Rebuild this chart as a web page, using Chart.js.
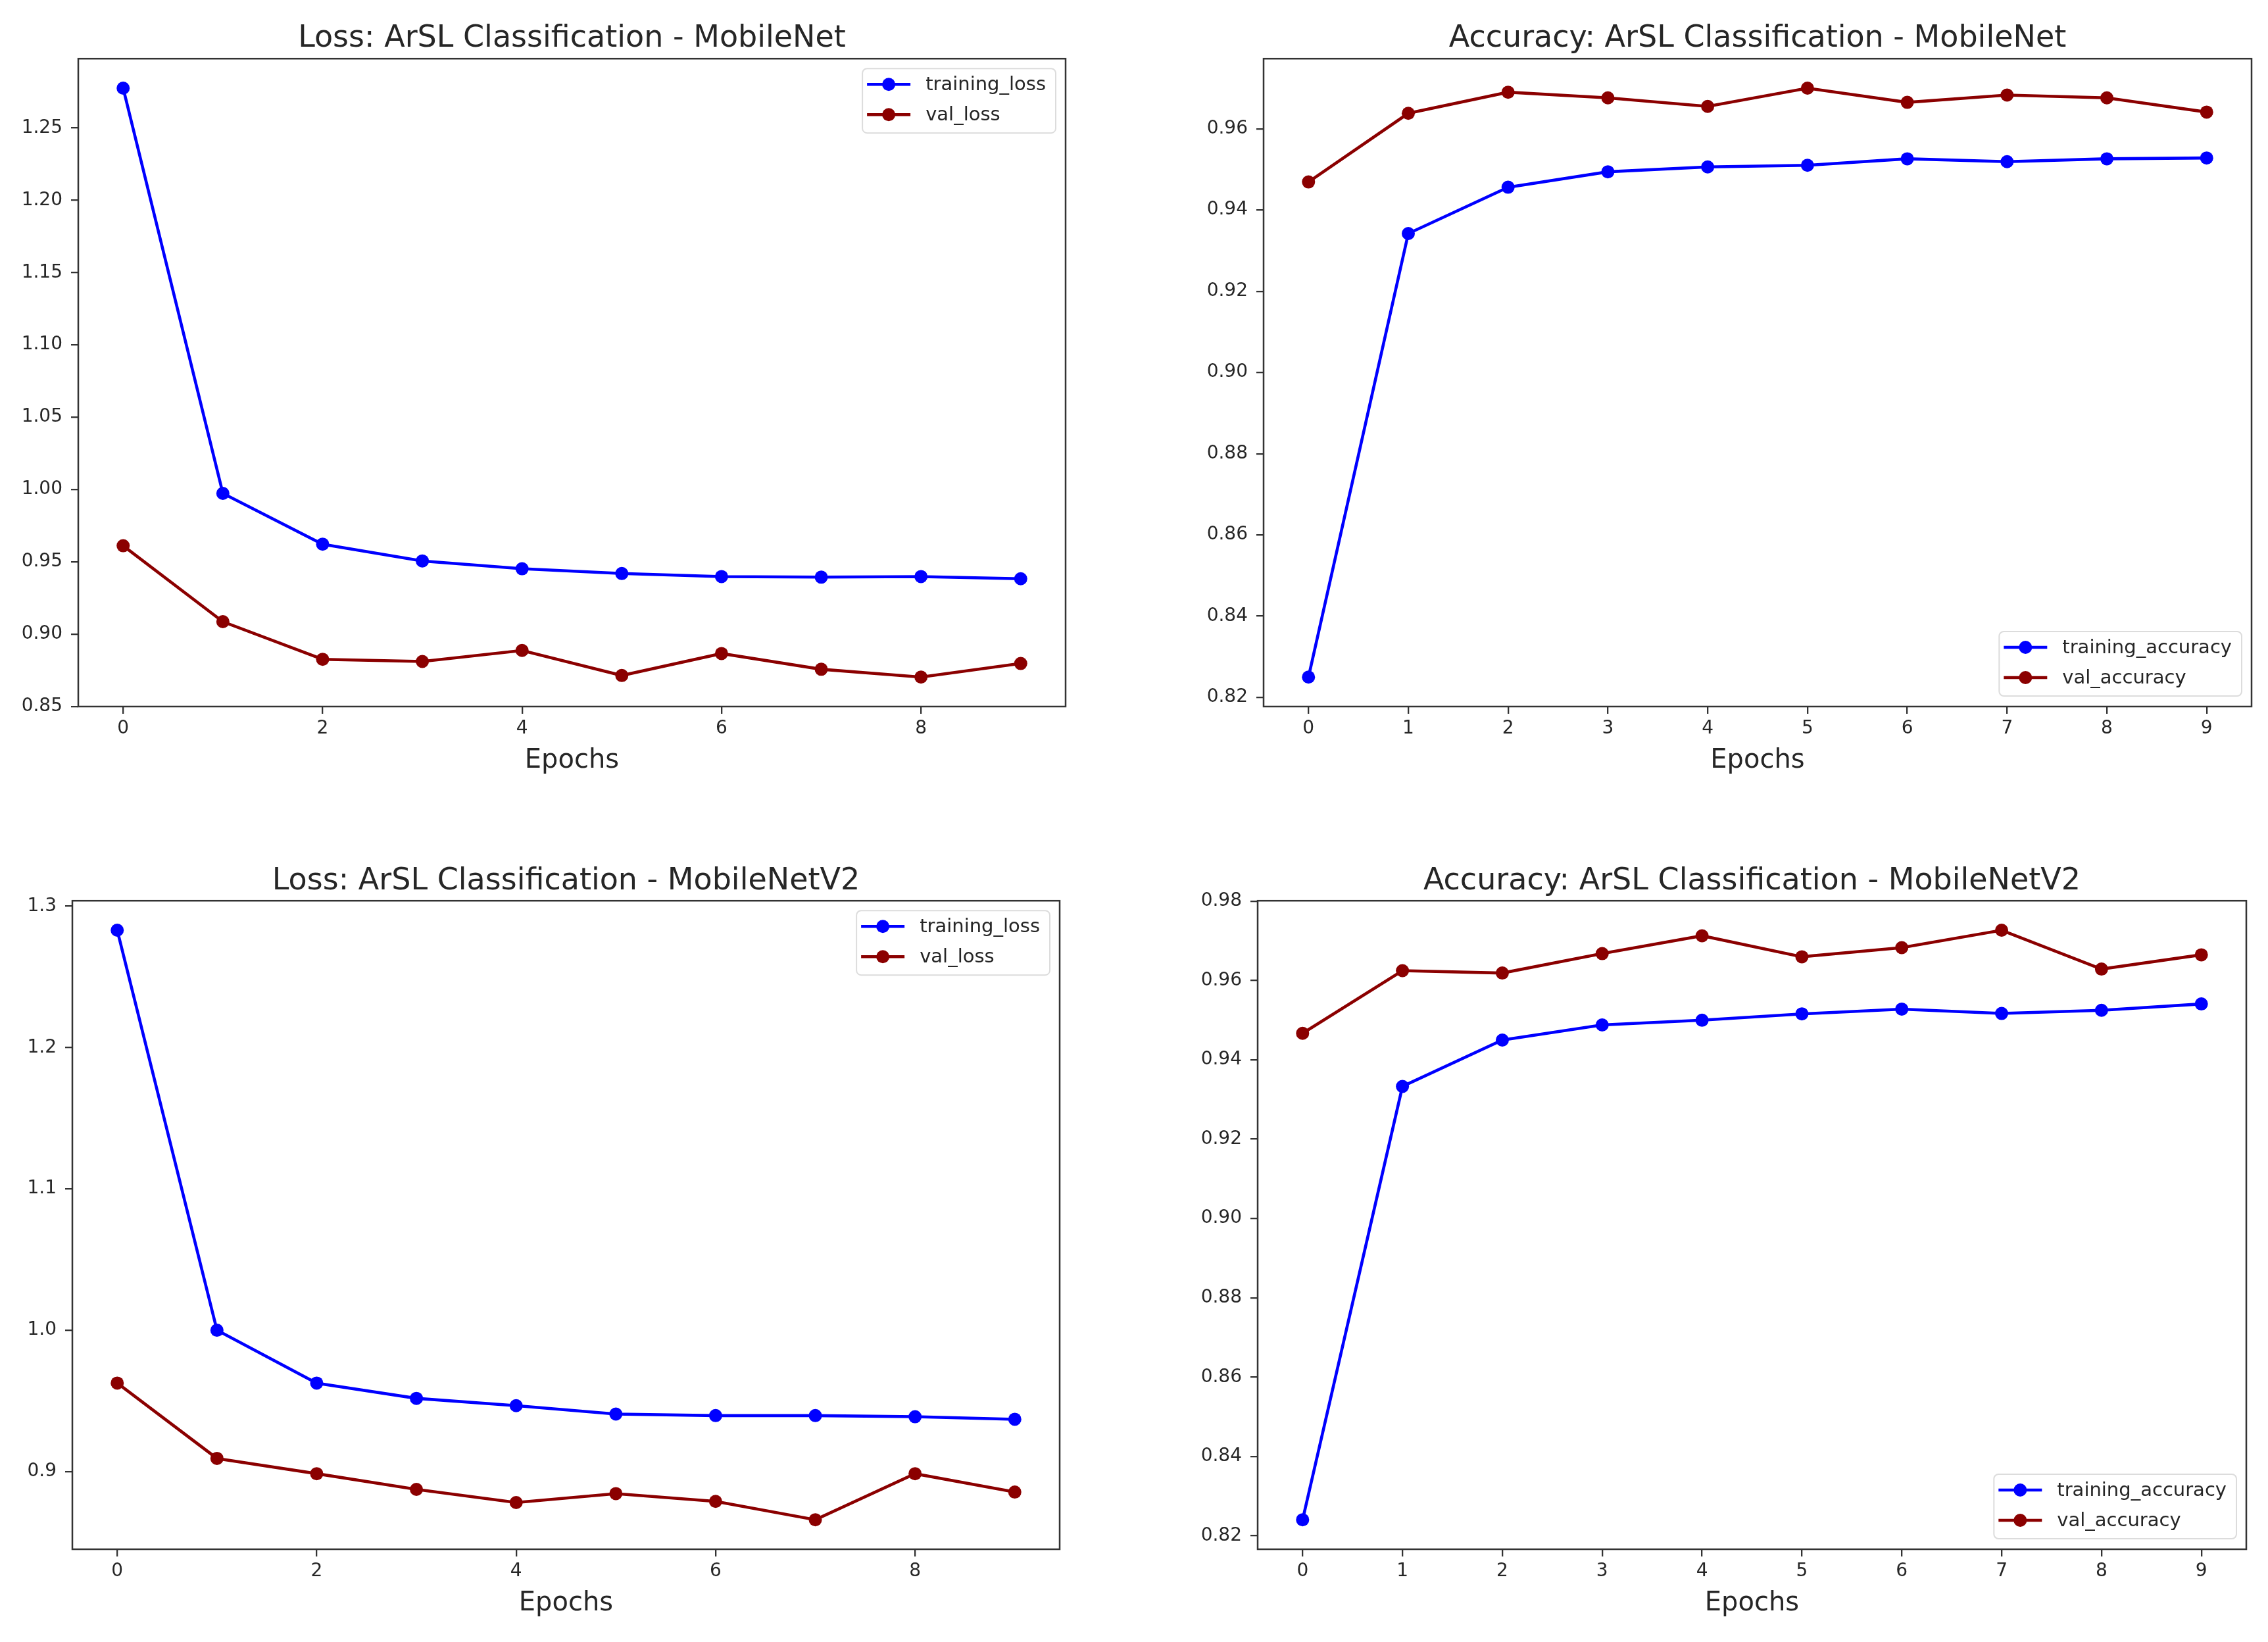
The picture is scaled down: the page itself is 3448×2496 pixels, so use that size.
<!DOCTYPE html>
<html>
<head>
<meta charset="utf-8">
<script src="https://cdn.jsdelivr.net/npm/chart.js@4.4.1/dist/chart.umd.min.js"></script>
<style>
  html, body { margin: 0; padding: 0; background: #fff; }
  body { width: 3448px; height: 2496px; position: relative; overflow: hidden; }
  canvas { position: absolute; }
</style>
</head>
<body>
<canvas id="lossV1" width="1724" height="1248" style="left:0;top:0"></canvas>
<canvas id="accV1" width="1724" height="1248" style="left:1724px;top:0"></canvas>
<canvas id="lossV2" width="1724" height="1248" style="left:0;top:1248px"></canvas>
<canvas id="accV2" width="1724" height="1248" style="left:1724px;top:1248px"></canvas>
<script>
// epochs on the x axis
const epochs = [0, 1, 2, 3, 4, 5, 6, 7, 8, 9];
const xTicksEven = [0, 2, 4, 6, 8];
const xTicksAll = [0, 1, 2, 3, 4, 5, 6, 7, 8, 9];

// MobileNet
const trainLossV1 = [1.2775, 0.9973, 0.9622, 0.9506, 0.9452, 0.9419, 0.9398, 0.9394, 0.9398, 0.9383];
const valLossV1 = [0.9611, 0.9086, 0.8826, 0.8811, 0.8887, 0.8714, 0.8866, 0.8757, 0.8703, 0.8797];
const trainAccV1 = [0.825, 0.9342, 0.9456, 0.9494, 0.9506, 0.951, 0.9526, 0.9519, 0.9526, 0.9528];
const valAccV1 = [0.9469, 0.9638, 0.969, 0.9676, 0.9655, 0.970, 0.9665, 0.9683, 0.9676, 0.9641];

// MobileNetV2
const trainLossV2 = [1.283, 1.000, 0.9626, 0.9518, 0.9466, 0.9407, 0.9396, 0.9396, 0.9388, 0.937];
const valLossV2 = [0.9626, 0.9093, 0.8985, 0.8874, 0.8781, 0.8844, 0.8789, 0.8659, 0.8985, 0.8855];
const trainAccV2 = [0.824, 0.9333, 0.945, 0.9488, 0.950, 0.9516, 0.9528, 0.9517, 0.9525, 0.9541];
const valAccV2 = [0.9467, 0.9625, 0.9619, 0.9668, 0.9713, 0.966, 0.9683, 0.9727, 0.9629, 0.9665];

// y tick labels
const lossTicksV1 = [0.85, 0.90, 0.95, 1.00, 1.05, 1.10, 1.15, 1.20, 1.25];
const accTicksV1 = [0.82, 0.84, 0.86, 0.88, 0.90, 0.92, 0.94, 0.96];
const lossTicksV2 = [0.9, 1.0, 1.1, 1.2, 1.3];
const accTicksV2 = [0.82, 0.84, 0.86, 0.88, 0.90, 0.92, 0.94, 0.96, 0.98];

const FONT = "'DejaVu Sans', sans-serif";
const TEXT = '#262626';
const SPINE = '#333333';

// frame around the plot area, like matplotlib spines
const framePlugin = {
  id: 'frame',
  afterDatasetsDraw(chart) {
    const a = chart.chartArea;
    const ctx = chart.ctx;
    ctx.save();
    ctx.strokeStyle = SPINE;
    ctx.lineWidth = 2.5;
    ctx.strokeRect(a.left, a.top, a.right - a.left, a.bottom - a.top);
    ctx.restore();
  }
};

// legend box drawn inside the axes
const mplLegend = {
  id: 'mplLegend',
  afterDraw(chart, args, opts) {
    const a = chart.chartArea;
    const ctx = chart.ctx;
    const sets = chart.data.datasets;
    ctx.save();
    ctx.font = '29px ' + FONT;
    let textW = 0;
    sets.forEach(ds => { textW = Math.max(textW, ctx.measureText(ds.label).width); });
    const w = 96 + textW + 15;
    const h = 98;
    const x = a.right - 15 - w;
    const y = opts.loc === 'lower right' ? a.bottom - 16 - h : a.top + 15;

    ctx.fillStyle = 'rgba(255,255,255,0.8)';
    ctx.strokeStyle = '#dcdcdc';
    ctx.lineWidth = 2;
    ctx.beginPath();
    ctx.roundRect(x, y, w, h, 7);
    ctx.fill();
    ctx.stroke();

    sets.forEach((ds, i) => {
      const ry = y + 24 + i * 46;
      ctx.strokeStyle = ds.borderColor;
      ctx.lineWidth = 4.6;
      ctx.beginPath();
      ctx.moveTo(x + 7, ry);
      ctx.lineTo(x + 73, ry);
      ctx.stroke();
      ctx.fillStyle = ds.borderColor;
      ctx.beginPath();
      ctx.arc(x + 40, ry, 10, 0, Math.PI * 2);
      ctx.fill();
      ctx.fillStyle = TEXT;
      ctx.textBaseline = 'middle';
      ctx.textAlign = 'left';
      ctx.fillText(ds.label, x + 96, ry + 1);
    });
    ctx.restore();
  }
};

function series(label, values, color) {
  return {
    label: label,
    data: values.map((v, i) => ({ x: epochs[i], y: v })),
    borderColor: color,
    backgroundColor: color,
    borderWidth: 4.6,
    pointRadius: 10,
    pointBorderWidth: 0,
    pointBackgroundColor: color,
    tension: 0
  };
}

function makeChart(id, cfg) {
  const all = cfg.train.concat(cfg.val);
  const lo = Math.min(...all);
  const hi = Math.max(...all);
  const m = (hi - lo) * 0.05;

  const ctx = document.getElementById(id).getContext('2d');
  return new Chart(ctx, {
    type: 'line',
    data: {
      datasets: [
        series(cfg.names[0], cfg.train, '#0000ff'),
        series(cfg.names[1], cfg.val, '#8b0000')
      ]
    },
    options: {
      responsive: false,
      animation: false,
      devicePixelRatio: 1,
      layout: { padding: cfg.padding },
      plugins: {
        legend: { display: false },
        tooltip: { enabled: false },
        title: {
          display: true,
          text: cfg.title,
          fullSize: false,
          color: TEXT,
          font: { family: FONT, size: 46, weight: 'normal', lineHeight: 1.2 },
          padding: { top: 0, bottom: cfg.titleGap }
        },
        mplLegend: { loc: cfg.legendLoc }
      },
      scales: {
        x: {
          type: 'linear',
          min: -0.45,
          max: 9.45,
          afterBuildTicks: s => { s.ticks = cfg.xTicks.map(v => ({ value: v })); },
          afterFit: s => { s.height = 120; },
          grid: { display: true, drawOnChartArea: false, drawTicks: true, tickLength: 11, color: SPINE, lineWidth: 2.3 },
          border: { display: false },
          ticks: { color: TEXT, padding: 6, font: { family: FONT, size: 28 }, maxRotation: 0, autoSkip: false },
          title: {
            display: true,
            text: 'Epochs',
            color: TEXT,
            font: { family: FONT, size: 40, lineHeight: 1.2 },
            padding: { top: 0, bottom: 13 }
          }
        },
        y: {
          min: lo - m,
          max: hi + m,
          afterBuildTicks: s => { s.ticks = cfg.yTicks.map(v => ({ value: v })); },
          afterFit: s => { s.width = 110; },
          grid: { display: true, drawOnChartArea: false, drawTicks: true, tickLength: 11, color: SPINE, lineWidth: 2.3 },
          border: { display: false },
          ticks: {
            color: TEXT,
            padding: 13,
            autoSkip: false,
            font: { family: FONT, size: 28 },
            callback: v => v.toFixed(cfg.decimals)
          }
        }
      }
    },
    plugins: [framePlugin, mplLegend]
  });
}

makeChart('lossV1', {
  title: 'Loss: ArSL Classification - MobileNet',
  names: ['training_loss', 'val_loss'],
  train: trainLossV1, val: valLossV1,
  xTicks: xTicksEven, yTicks: lossTicksV1, decimals: 2,
  legendLoc: 'upper right',
  padding: { left: 9, right: 104, top: 31, bottom: 54 },
  titleGap: 3
});

makeChart('accV1', {
  title: 'Accuracy: ArSL Classification - MobileNet',
  names: ['training_accuracy', 'val_accuracy'],
  train: trainAccV1, val: valAccV1,
  xTicks: xTicksAll, yTicks: accTicksV1, decimals: 2,
  legendLoc: 'lower right',
  padding: { left: 87, right: 25, top: 31, bottom: 54 },
  titleGap: 3
});

makeChart('lossV2', {
  title: 'Loss: ArSL Classification - MobileNetV2',
  names: ['training_loss', 'val_loss'],
  train: trainLossV2, val: valLossV2,
  xTicks: xTicksEven, yTicks: lossTicksV2, decimals: 1,
  legendLoc: 'upper right',
  padding: { left: 0, right: 113, top: 64, bottom: 21 },
  titleGap: 2
});

makeChart('accV2', {
  title: 'Accuracy: ArSL Classification - MobileNetV2',
  names: ['training_accuracy', 'val_accuracy'],
  train: trainAccV2, val: valAccV2,
  xTicks: xTicksAll, yTicks: accTicksV2, decimals: 2,
  legendLoc: 'lower right',
  padding: { left: 78, right: 33, top: 64, bottom: 21 },
  titleGap: 2
});
</script>
</body>
</html>
